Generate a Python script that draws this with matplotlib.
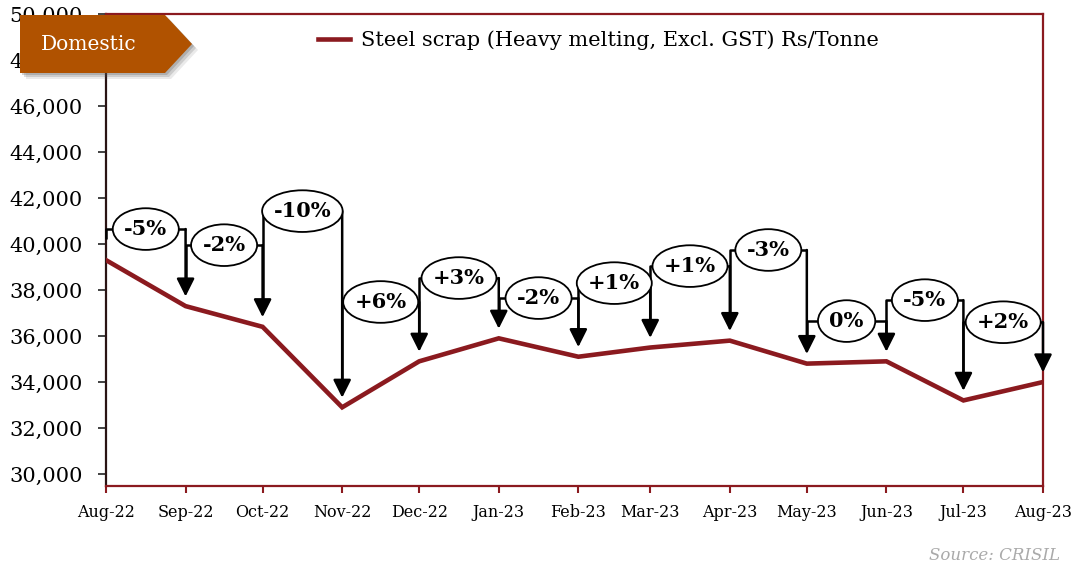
import numpy as np
import pandas as pd
import matplotlib
matplotlib.use('Agg')
import matplotlib.pyplot as plt
import matplotlib.dates as mdates
from matplotlib.patches import Polygon
from matplotlib.path import Path
from matplotlib.transforms import Affine2D

# data
months = ['Aug-22', 'Sep-22', 'Oct-22', 'Nov-22', 'Dec-22', 'Jan-23', 'Feb-23',
          'Mar-23', 'Apr-23', 'May-23', 'Jun-23', 'Jul-23', 'Aug-23']
prices = [39300, 37300, 36400, 32900, 34900, 35900, 35100,
          35500, 35800, 34800, 34900, 33200, 34000]
changes = ['-5%', '-2%', '-10%', '+6%', '+3%', '-2%', '+1%', '+1%', '-3%', '0%', '-5%', '+2%']
# height of each change bracket (Rs/Tonne scale)
label_levels = [40650, 39950, 41430, 37480, 38520, 37650, 38300, 39040, 39740, 36650, 37560, 36600]

W, H = 1073, 569
RED = '#8b1a1f'

plt.rcParams['font.family'] = 'DejaVu Serif'

def fx(px):
    return px / W

def fy(py):
    return 1 - py / H

def oval(x0, y0, width, height, mutation_size):
    # ellipse a bit wider than the text, fixed height
    a = width / 2 + 0.55 * mutation_size
    b = 1.0 * mutation_size
    tr = Affine2D().scale(a, b).translate(x0 + width / 2, y0 + height / 2)
    return tr.transform_path(Path.unit_circle())

fig = plt.figure(figsize=(W / 100, H / 100), dpi=100)
ax = fig.add_axes([fx(106), fy(486), fx(1043 - 106), (486 - 14) / H])

x = mdates.date2num(pd.to_datetime(months, format='%b-%y'))
ax.plot(x, prices, color=RED, lw=3.3, solid_joinstyle='miter', zorder=3,
        label='Steel scrap (Heavy melting, Excl. GST) Rs/Tonne')

# change brackets with arrows
gap = 420
for i, txt in enumerate(changes):
    x0, x1, h = x[i], x[i + 1], label_levels[i]
    ax.plot([x0, x0, x1], [prices[i] + gap + 500, h, h], color='black', lw=1.8,
            solid_capstyle='butt', zorder=4, clip_on=False)
    ax.annotate('', xy=(x1, prices[i + 1] + gap), xytext=(x1, h),
                arrowprops=dict(arrowstyle='-|>,head_length=0.72,head_width=0.36',
                                mutation_scale=15, lw=1.8, color='black',
                                shrinkA=0, shrinkB=0), zorder=4, annotation_clip=False)
    ax.text((x0 + x1) / 2, h, txt, ha='center', va='center', fontsize=15,
            fontweight='bold', zorder=5,
            bbox=dict(boxstyle=oval, fc='white', ec='black', lw=1.3))

ax.set_xlim(x[0], x[-1])
ax.set_ylim(29480, 50000)
ax.set_xticks(x)
ax.set_xticklabels(months, fontsize=11.5)
ax.set_yticks(np.arange(30000, 50001, 2000))
ax.yaxis.set_major_formatter(plt.FuncFormatter(lambda v, p: f'{v:,.0f}'))
ax.tick_params(axis='y', labelsize=15, length=6, width=1.2, color='#222222', pad=11)
ax.tick_params(axis='x', length=5, width=1.5, color=RED, pad=8)

for side in ['top', 'right', 'bottom']:
    ax.spines[side].set_color(RED)
    ax.spines[side].set_linewidth(1.6)
ax.spines['left'].set_color('#2a1414')
ax.spines['left'].set_linewidth(1.6)

ax.legend(loc='center left', bbox_to_anchor=(fx(318), fy(40)), bbox_transform=fig.transFigure,
          frameon=False, fontsize=15, handlelength=1.55, handletextpad=0.5,
          borderpad=0, borderaxespad=0)

# "Domestic" badge with drop shadow
badge = [(20, 15), (165, 15), (192, 44), (165, 73), (20, 73)]
for off, a in [(6, 0.12), (4, 0.2), (2, 0.25)]:
    fig.add_artist(Polygon([(fx(px + off), fy(py + off)) for px, py in badge],
                           closed=True, transform=fig.transFigure, fc='#555555',
                           ec='none', alpha=a, zorder=9))
fig.add_artist(Polygon([(fx(px), fy(py)) for px, py in badge], closed=True,
                       transform=fig.transFigure, fc='#b05200', ec='none', zorder=10))
fig.text(fx(89), fy(45), 'Domestic', color='white', fontsize=14.5, ha='center',
         va='center', zorder=11)

fig.text(fx(1060), fy(556), 'Source: CRISIL', color='#aaaaaa', fontsize=12,
         style='italic', ha='right', va='center')

fig.savefig('out.png', dpi=100)
